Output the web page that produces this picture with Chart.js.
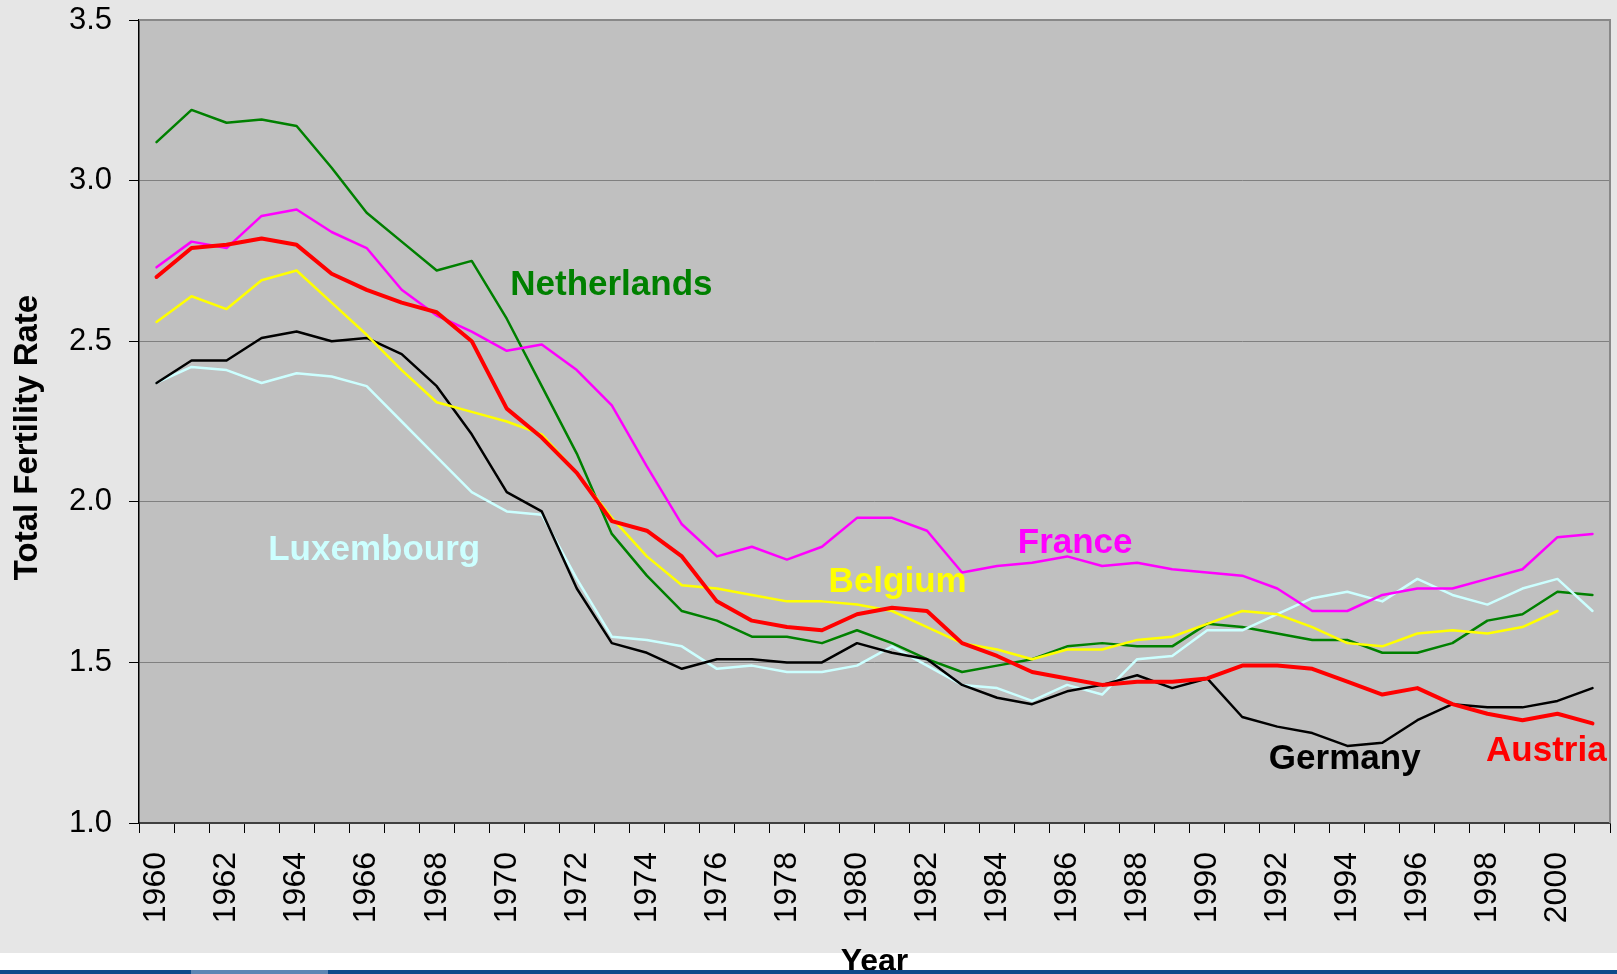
<!DOCTYPE html>
<html>
<head>
<meta charset="utf-8">
<script src="https://cdn.jsdelivr.net/npm/chart.js@4.4.0/dist/chart.umd.min.js"></script>
<style>
  html, body { margin: 0; padding: 0; background: #e6e6e6; overflow: hidden; }
  #chart-container { width: 1617px; height: 974px; }
</style>
</head>
<body>
<div id="chart-container"><canvas id="chart" width="1617" height="974"></canvas></div>
<script>
const years = [1960, 1961, 1962, 1963, 1964, 1965, 1966, 1967, 1968, 1969,
  1970, 1971, 1972, 1973, 1974, 1975, 1976, 1977, 1978, 1979,
  1980, 1981, 1982, 1983, 1984, 1985, 1986, 1987, 1988, 1989,
  1990, 1991, 1992, 1993, 1994, 1995, 1996, 1997, 1998, 1999,
  2000, 2001];

const austria = [2.70, 2.79, 2.80, 2.82, 2.80, 2.71, 2.66, 2.62, 2.59, 2.50,
  2.29, 2.20, 2.09, 1.94, 1.91, 1.83, 1.69, 1.63, 1.61, 1.60,
  1.65, 1.67, 1.66, 1.56, 1.52, 1.47, 1.45, 1.43, 1.44, 1.44,
  1.45, 1.49, 1.49, 1.48, 1.44, 1.40, 1.42, 1.37, 1.34, 1.32,
  1.34, 1.31];
const belgium = [2.56, 2.64, 2.60, 2.69, 2.72, 2.62, 2.52, 2.41, 2.31, 2.28,
  2.25, 2.21, 2.09, 1.95, 1.83, 1.74, 1.73, 1.71, 1.69, 1.69,
  1.68, 1.66, 1.61, 1.56, 1.54, 1.51, 1.54, 1.54, 1.57, 1.58,
  1.62, 1.66, 1.65, 1.61, 1.56, 1.55, 1.59, 1.60, 1.59, 1.61,
  1.66, null];
const france = [2.73, 2.81, 2.79, 2.89, 2.91, 2.84, 2.79, 2.66, 2.58, 2.53,
  2.47, 2.49, 2.41, 2.30, 2.11, 1.93, 1.83, 1.86, 1.82, 1.86,
  1.95, 1.95, 1.91, 1.78, 1.80, 1.81, 1.83, 1.80, 1.81, 1.79,
  1.78, 1.77, 1.73, 1.66, 1.66, 1.71, 1.73, 1.73, 1.76, 1.79,
  1.89, 1.90];
const germany = [2.37, 2.44, 2.44, 2.51, 2.53, 2.50, 2.51, 2.46, 2.36, 2.21,
  2.03, 1.97, 1.73, 1.56, 1.53, 1.48, 1.51, 1.51, 1.50, 1.50,
  1.56, 1.53, 1.51, 1.43, 1.39, 1.37, 1.41, 1.43, 1.46, 1.42,
  1.45, 1.33, 1.30, 1.28, 1.24, 1.25, 1.32, 1.37, 1.36, 1.36,
  1.38, 1.42];
const luxembourg = [2.37, 2.42, 2.41, 2.37, 2.40, 2.39, 2.36, 2.25, 2.14, 2.03,
  1.97, 1.96, 1.76, 1.58, 1.57, 1.55, 1.48, 1.49, 1.47, 1.47,
  1.49, 1.55, 1.49, 1.43, 1.42, 1.38, 1.43, 1.40, 1.51, 1.52,
  1.60, 1.60, 1.65, 1.70, 1.72, 1.69, 1.76, 1.71, 1.68, 1.73,
  1.76, 1.66];
const netherlands = [3.12, 3.22, 3.18, 3.19, 3.17, 3.04, 2.90, 2.81, 2.72, 2.75,
  2.57, 2.36, 2.15, 1.90, 1.77, 1.66, 1.63, 1.58, 1.58, 1.56,
  1.60, 1.56, 1.51, 1.47, 1.49, 1.51, 1.55, 1.56, 1.55, 1.55,
  1.62, 1.61, 1.59, 1.57, 1.57, 1.53, 1.53, 1.56, 1.63, 1.65,
  1.72, 1.71];

// country name labels inside the plot: left edge (year index) and baseline value
const labelNames = ['Netherlands', 'Luxembourg', 'Belgium', 'France', 'Germany', 'Austria'];
const labelColors = ['#008000', '#ccffff', '#ffff00', '#ff00ff', '#000000', '#ff0000'];
const labelIndex = [10.1, 3.19, 19.19, 24.59, 31.76, 37.96];
const labelValue = [2.645, 1.820, 1.718, 1.842, 1.167, 1.192];

const yTicks = [1.0, 1.5, 2.0, 2.5, 3.0, 3.5];

const FONT = '"Liberation Sans", Arial, sans-serif';

const canvas = document.getElementById('chart');
const ctx = canvas.getContext('2d');

// no extra room for tick labels, the layout padding decides the plot area
function noPadding(scale) {
    scale.paddingTop = 0;
    scale.paddingBottom = 0;
    scale.paddingLeft = 0;
    scale.paddingRight = 0;
}

const backdrop = {
    id: 'backdrop',
    beforeDraw(chart) {
        const c = chart.ctx, a = chart.chartArea;
        c.save();
        c.fillStyle = '#e6e6e6';
        c.fillRect(0, 0, chart.width, chart.height);
        c.fillStyle = '#ffffff';
        c.fillRect(0, 953, chart.width, chart.height - 953);
        c.fillStyle = '#c0c0c0';
        c.fillRect(a.left, a.top, a.right - a.left, a.bottom - a.top);
        c.restore();
    },
    beforeDatasetsDraw(chart) {
        const c = chart.ctx, a = chart.chartArea;
        c.save();
        c.strokeStyle = '#888888';
        c.lineWidth = 2;
        c.beginPath();
        c.moveTo(a.left, a.top);
        c.lineTo(a.right, a.top);
        c.lineTo(a.right, a.bottom);
        c.stroke();
        c.restore();
    },
    afterDatasetsDraw(chart) {
        const c = chart.ctx;
        const xs = chart.scales.x, ys = chart.scales.y;
        c.save();
        c.font = 'bold 35px ' + FONT;
        c.textBaseline = 'alphabetic';
        c.textAlign = 'left';
        labelNames.forEach((name, i) => {
            c.fillStyle = labelColors[i];
            c.fillText(name, xs.getPixelForValue(labelIndex[i]), ys.getPixelForValue(labelValue[i]));
        });
        c.restore();
    },
    afterDraw(chart) {
        const c = chart.ctx, a = chart.chartArea;
        c.save();
        // y axis title
        c.translate(28, (a.top + a.bottom) / 2 + 16);
        c.rotate(-Math.PI / 2);
        c.font = 'bold 33px ' + FONT;
        c.fillStyle = '#000';
        c.textAlign = 'center';
        c.textBaseline = 'middle';
        c.fillText('Total Fertility Rate', 0, 0);
        c.restore();
        // bottom bar of the screen grab
        c.save();
        c.fillStyle = '#0c4a8a';
        c.fillRect(0, 970, chart.width, chart.height - 970);
        c.fillStyle = '#5d86b4';
        c.fillRect(191, 970, 137, chart.height - 970);
        c.restore();
    }
};

const data = {
    labels: years,
    datasets: [
        { label: 'Austria', data: austria, borderColor: '#ff0000', borderWidth: 4, order: 0 },
        { label: 'Belgium', data: belgium, borderColor: '#ffff00', borderWidth: 2.5, order: 1 },
        { label: 'France', data: france, borderColor: '#ff00ff', borderWidth: 2.5, order: 2 },
        { label: 'Germany', data: germany, borderColor: '#000000', borderWidth: 2.5, order: 3 },
        { label: 'Luxembourg', data: luxembourg, borderColor: '#ccffff', borderWidth: 2.5, order: 4 },
        { label: 'Netherlands', data: netherlands, borderColor: '#008000', borderWidth: 2.5, order: 5 }
    ]
};

const config = {
    type: 'line',
    data: data,
    options: {
        responsive: false,
        animation: false,
        devicePixelRatio: 1,
        layout: { padding: { top: 20, right: 7, left: 0, bottom: 0 } },
        elements: {
            point: { radius: 0, hoverRadius: 0 },
            line: { tension: 0, fill: false, borderCapStyle: 'round', borderJoinStyle: 'round' }
        },
        plugins: {
            legend: { display: false },
            tooltip: { enabled: false },
            title: { display: false }
        },
        scales: {
            x: {
                type: 'category',
                offset: true,
                afterFit(scale) { scale.height = 151; noPadding(scale); },
                grid: { offset: true, drawOnChartArea: false, tickLength: 10, tickColor: '#000', lineWidth: 1 },
                border: { color: '#404040', width: 2 },
                ticks: {
                    autoSkip: false,
                    maxRotation: 90,
                    minRotation: 90,
                    padding: 19,
                    color: '#000',
                    font: { family: FONT, size: 32 },
                    callback(value, index) {
                        return index % 2 === 0 ? String(years[index]) : '';
                    }
                },
                title: {
                    display: true,
                    text: 'Year',
                    color: '#000',
                    font: { family: FONT, size: 32, weight: 'bold' },
                    padding: { top: 0, bottom: -7 }
                }
            },
            y: {
                min: 1,
                max: 3.5,
                afterFit(scale) { scale.width = 139; noPadding(scale); },
                afterBuildTicks(scale) { scale.ticks = yTicks.map(v => ({ value: v })); },
                grid: { color: '#808080', lineWidth: 1, tickLength: 10, tickColor: '#000' },
                border: { color: '#000', width: 1.5 },
                ticks: {
                    padding: 17,
                    color: '#000',
                    font: { family: FONT, size: 31 },
                    callback: v => Number(v).toFixed(1)
                }
            }
        }
    },
    plugins: [backdrop]
};

new Chart(ctx, config);
</script>
</body>
</html>
